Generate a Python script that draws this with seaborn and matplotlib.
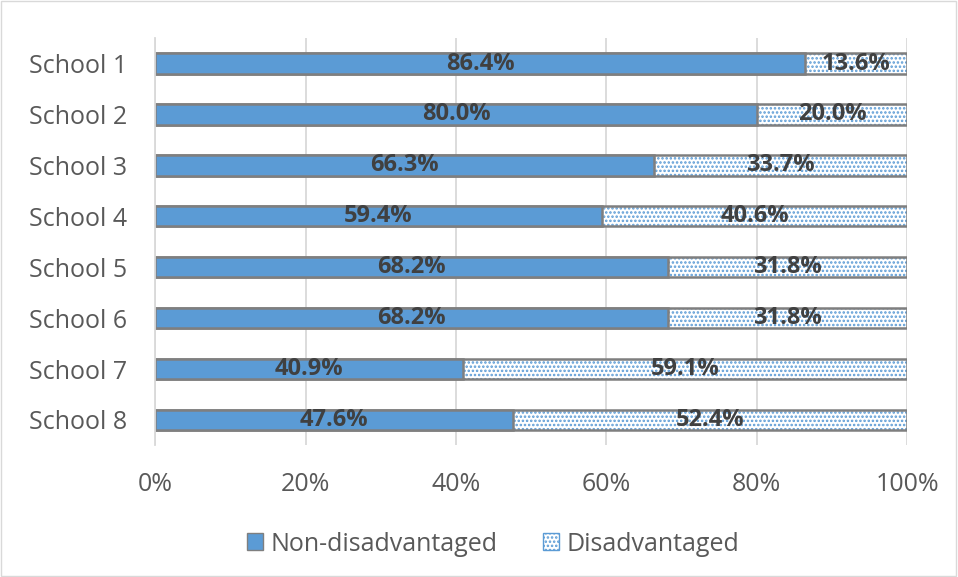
import matplotlib
matplotlib.use("Agg")
import matplotlib.pyplot as plt
import seaborn as sns
import pandas as pd
import numpy as np
from matplotlib.patches import Patch

schools = ["School 1", "School 2", "School 3", "School 4", "School 5", "School 6", "School 7", "School 8"]
non_dis = [86.4, 80.0, 66.3, 59.4, 68.2, 68.2, 40.9, 47.6]
dis = [13.6, 20.0, 33.7, 40.6, 31.8, 31.8, 59.1, 52.4]
xticks = [0, 20, 40, 60, 80, 100]
xtick_labels = ["0%", "20%", "40%", "60%", "80%", "100%"]

sns.set_theme(style="white")
plt.rcParams['font.family'] = ['Open Sans', 'DejaVu Sans']
plt.rcParams['hatch.linewidth'] = 1.2

df = pd.DataFrame({"school": schools, "non": non_dis, "dis": dis})
df["total"] = df["non"] + df["dis"]

fig = plt.figure(figsize=(9.58, 5.77), dpi=100)
ax = fig.add_axes([0.162, 0.228, 0.785, 0.706])

blue = "#5B9BD5"
edge = "#7F7F7F"

# hatched background (disadvantaged, stacked to total)
sns.barplot(data=df, y="school", x="total", orient="h", color="white", width=0.4,
            ax=ax, saturation=1, linewidth=0)
for p in ax.patches:
    p.set_hatch("....")
    p.set_edgecolor(blue)
    p.set_linewidth(0)
sns.barplot(data=df, y="school", x="total", orient="h", fill=False, width=0.4,
            ax=ax, linewidth=1.8, edgecolor=edge)
sns.barplot(data=df, y="school", x="non", orient="h", color=blue, width=0.4,
            ax=ax, saturation=1, linewidth=1.8, edgecolor=edge)

for i, (a, b) in enumerate(zip(non_dis, dis)):
    ax.text(a / 2, i, f"{a:.1f}%", ha="center", va="center", fontsize=17,
            fontweight="bold", color="#404040")
    ax.text(a + b / 2, i, f"{b:.1f}%", ha="center", va="center", fontsize=17,
            fontweight="bold", color="#404040")

ax.set_xlim(0, 100)
ax.set_ylim(7.5, -0.5)
ax.set_xticks(xticks)
ax.set_xticklabels(xtick_labels, fontsize=18, color="#595959")
ax.tick_params(axis="y", labelsize=18, labelcolor="#595959", length=0, pad=20)
ax.tick_params(axis="x", length=0, pad=19)
ax.set_xlabel("")
ax.set_ylabel("")
ax.xaxis.grid(True, color="#D9D9D9", linewidth=1.3)
ax.set_axisbelow(True)
for s in ["top", "right", "bottom"]:
    ax.spines[s].set_visible(False)
ax.spines["left"].set_color("#D9D9D9")
ax.spines["left"].set_linewidth(1.3)

handles = [Patch(facecolor=blue, edgecolor=edge, label="Non-disadvantaged"),
           Patch(facecolor="white", edgecolor=blue, hatch="....", label="Disadvantaged")]
leg = fig.legend(handles=handles, loc="center", bbox_to_anchor=(0.515, 0.057), ncol=2,
                 frameon=False, fontsize=18, handlelength=0.65, handleheight=0.65,
                 handletextpad=0.3, columnspacing=1.8)
for t in leg.get_texts():
    t.set_color("#595959")

fig.patches.append(plt.Rectangle((0.001, 0.001), 0.997, 0.997, transform=fig.transFigure,
                                 fill=False, edgecolor="#D9D9D9", linewidth=1))
fig.savefig("out.png", dpi=100)
